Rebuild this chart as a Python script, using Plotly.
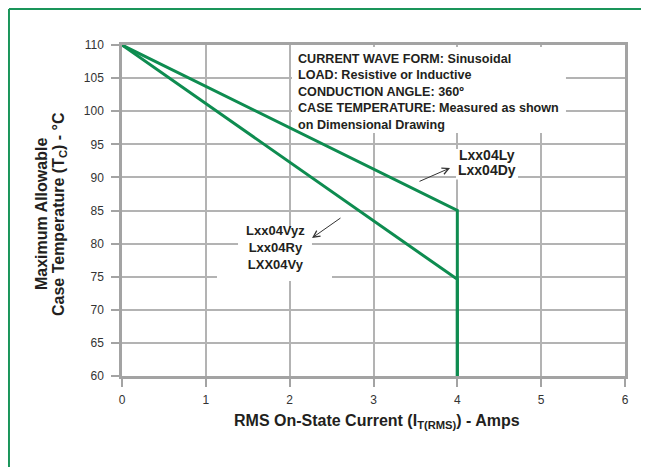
import plotly.graph_objects as go

# ---- data ----
current_ly = [0, 4, 4]            # Lxx04Ly / Lxx04Dy  (A)
temp_ly = [110, 85, 60]           # deg C
current_vyz = [0, 4, 4]           # Lxx04Vyz / Lxx04Ry / LXX04Vy (A)
temp_vyz = [110, 74.6, 60]        # deg C

x_ticks = [0, 1, 2, 3, 4, 5, 6]
y_ticks = [60, 65, 70, 75, 80, 85, 90, 95, 100, 105, 110]

info_lines = [
    "CURRENT WAVE FORM: Sinusoidal",
    "LOAD: Resistive or Inductive",
    "CONDUCTION ANGLE: 360º",
    "CASE TEMPERATURE: Measured as shown",
    "on Dimensional Drawing",
]
labels_upper = ["Lxx04Ly", "Lxx04Dy"]
labels_lower = ["Lxx04Vyz", "Lxx04Ry", "LXX04Vy"]

GREEN = "#0e8c50"
GRID = "#b3b3b3"
AXIS = "#a3a3a3"
TXT = "#231f20"
FONT = "Liberation Sans, Arial, sans-serif"

fig = go.Figure()
fig.add_trace(go.Scatter(x=current_ly, y=temp_ly, mode="lines",
                         line=dict(color=GREEN, width=3), name="Lxx04Ly"))
fig.add_trace(go.Scatter(x=current_vyz, y=temp_vyz, mode="lines",
                         line=dict(color=GREEN, width=3), name="Lxx04Vyz"))

shapes = []
# white masks hiding grid behind text
for x0, x1, y0, y1 in [(2.028, 5.296, 96.71, 109.70),
                       (3.984, 4.724, 89.68, 94.29),
                       (1.384, 2.266, 76.01, 82.36),
                       (1.133, 2.505, 74.35, 76.01)]:
    shapes.append(dict(type="rect", xref="x", yref="y", x0=x0, x1=x1, y0=y0, y1=y1,
                       fillcolor="white", line=dict(width=0), layer="between"))
# green outer frame (left and top edges)
shapes.append(dict(type="line", xref="paper", yref="paper", x0=-0.2247, x1=-0.2247,
                   y0=-0.5, y1=1.1088, line=dict(color="#1a955a", width=2)))
shapes.append(dict(type="line", xref="paper", yref="paper", x0=-0.2247, x1=1.2,
                   y0=1.1088, y1=1.1088, line=dict(color="#1a955a", width=2)))

annotations = []
annotations.append(dict(x=2.07, y=109.3, xref="x", yref="y", xanchor="left", yanchor="top",
                        align="left", showarrow=False,
                        text="<br>".join("<b>%s</b>" % t for t in info_lines),
                        font=dict(family=FONT, size=12.6, color=TXT)))
for t, yv in zip(labels_upper, [93.38, 91.12]):
    annotations.append(dict(x=4.354, y=yv, xref="x", yref="y", showarrow=False,
                            text="<b>%s</b>" % t, font=dict(family=FONT, size=14, color=TXT)))
annotations.append(dict(x=1.825, y=79.34, xref="x", yref="y", showarrow=False,
                        align="center", xanchor="center", yanchor="middle",
                        text="<br>".join("<b>%s</b>" % t for t in labels_lower),
                        font=dict(family=FONT, size=13, color=TXT)))
# pointer arrows
for hx, hy, tx, ty in [(3.913, 91.42, 3.531, 89.30), (2.267, 80.85, 2.624, 84.02)]:
    annotations.append(dict(x=hx, y=hy, ax=tx, ay=ty, xref="x", yref="y", axref="x", ayref="y",
                            text="", showarrow=True, arrowhead=5, arrowsize=1.3,
                            arrowwidth=1, arrowcolor="#333333"))
# axis titles
annotations.append(dict(x=-0.161, y=0.4894, xref="paper", yref="paper", textangle=-90,
                        xanchor="center", yanchor="middle",
                        showarrow=False, text="<b>Maximum Allowable</b>",
                        font=dict(family=FONT, size=16, color=TXT)))
annotations.append(dict(x=-0.1252, y=0.4894, xref="paper", yref="paper", textangle=-90,
                        xanchor="center", yanchor="middle",
                        showarrow=False, text="<b>Case Temperature (T<sub>C</sub>) - °C</b>",
                        font=dict(family=FONT, size=16, color=TXT)))
annotations.append(dict(x=0.506, y=-0.136, xref="paper", yref="paper",
                        xanchor="center", yanchor="middle",
                        showarrow=False, text="<b>RMS On-State Current (I<sub>T(RMS)</sub>) - Amps</b>",
                        font=dict(family=FONT, size=16, color=TXT)))

axis_common = dict(showgrid=True, gridcolor=GRID, gridwidth=1.5, showline=True,
                   linecolor=AXIS, linewidth=2.5, mirror=True, ticks="outside",
                   ticklen=8, tickwidth=1.5, tickcolor=AXIS, zeroline=False,
                   tickfont=dict(family=FONT, size=12, color="#333333"))

# the page body adds an 8px offset; margins compensate so the plot sits as in the reference
fig.update_layout(
    width=649, height=467,
    margin=dict(l=114, r=32, t=37, b=99),
    paper_bgcolor="white", plot_bgcolor="white",
    showlegend=False,
    xaxis=dict(range=[0, 6], tickvals=x_ticks, ticklabelstandoff=3, **axis_common),
    yaxis=dict(range=[60, 110], tickvals=y_ticks, ticklabelstandoff=5, **axis_common),
    shapes=shapes, annotations=annotations,
)

fig.write_html("out.html")
